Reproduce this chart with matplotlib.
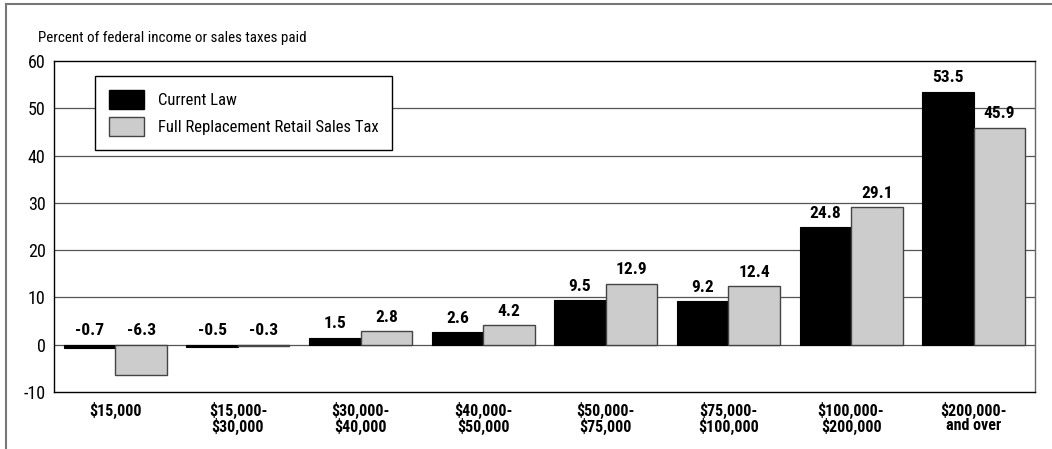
import numpy as np
import matplotlib.pyplot as plt
from matplotlib.lines import Line2D

categories = ['$15,000', '$15,000-\n$30,000', '$30,000-\n$40,000', '$40,000-\n$50,000',
              '$50,000-\n$75,000', '$75,000-\n$100,000', '$100,000-\n$200,000', '$200,000-\nand over']
current_law = [-0.7, -0.5, 1.5, 2.6, 9.5, 9.2, 24.8, 53.5]
sales_tax = [-6.3, -0.3, 2.8, 4.2, 12.9, 12.4, 29.1, 45.9]
series_names = ['Current Law', 'Full Replacement Retail Sales Tax']
yticks = [-10, 0, 10, 20, 30, 40, 50, 60]

plt.rcParams['font.family'] = ['Roboto Condensed', 'Archivo Narrow', 'DejaVu Sans']
plt.rcParams['text.parse_math'] = False

fig = plt.figure(figsize=(10.52, 4.49), dpi=100)
ax = fig.add_axes([54 / 1052, 1 - 392 / 449, 981 / 1052, 331 / 449])

x = np.arange(len(categories))
w = 0.42
b1 = ax.bar(x - w / 2, current_law, w, color='black', edgecolor='black', linewidth=0.8, zorder=3)
b2 = ax.bar(x + w / 2, sales_tax, w, color='#cccccc', edgecolor='#444444', linewidth=1.0, zorder=3)

for bars, vals in [(b1, current_law), (b2, sales_tax)]:
    for r, v in zip(bars, vals):
        top = max(v, 0)
        ax.annotate(f'{v:.1f}', (r.get_x() + r.get_width() / 2, top), xytext=(0, 4.5),
                    textcoords='offset points', ha='center', va='bottom',
                    fontsize=12.5, fontweight='bold')

ax.set_ylim(-10, 60)
ax.set_xlim(-0.5, len(categories) - 0.5)
ax.set_yticks(yticks)
ax.set_yticklabels([str(t) for t in yticks], fontsize=13)
ax.set_xticks(x)
ax.set_xticklabels(categories, fontsize=11.5, fontweight='bold', linespacing=0.95)
ax.tick_params(axis='both', length=0, pad=6)
ax.tick_params(axis='x', pad=7)
for t in [0, 10, 20, 30, 40, 50]:
    ax.axhline(t, color='#555555', linewidth=0.9, zorder=1)
for s in ax.spines.values():
    s.set_color('black')
    s.set_linewidth(1.0)
ax.spines['right'].set_color('#666666')

fig.text(38 / 1052, 1 - 38 / 449, 'Percent of federal income or sales taxes paid',
         fontsize=10.8, va='center', ha='left')

handles = [plt.Rectangle((0, 0), 1, 1, facecolor='black', edgecolor='black'),
           plt.Rectangle((0, 0), 1, 1, facecolor='#cccccc', edgecolor='#444444')]
leg = ax.legend(handles, series_names, loc='upper left', bbox_to_anchor=(41 / 981, 1 - 15 / 331),
                fontsize=12, frameon=True, fancybox=False, framealpha=1, handlelength=2.1,
                handleheight=1.4, borderpad=0.85, labelspacing=0.45, borderaxespad=0,
                handletextpad=0.8)
leg.get_frame().set_edgecolor('black')
leg.get_frame().set_linewidth(1.0)
leg.set_zorder(5)

# outer frame (top and left only)
fig.add_artist(Line2D([6 / 1052, 1], [1 - 4 / 449, 1 - 4 / 449], color='#777777', linewidth=1.5))
fig.add_artist(Line2D([6 / 1052, 6 / 1052], [0, 1 - 4 / 449], color='#777777', linewidth=1.5))

fig.savefig('out.png', dpi=100)
